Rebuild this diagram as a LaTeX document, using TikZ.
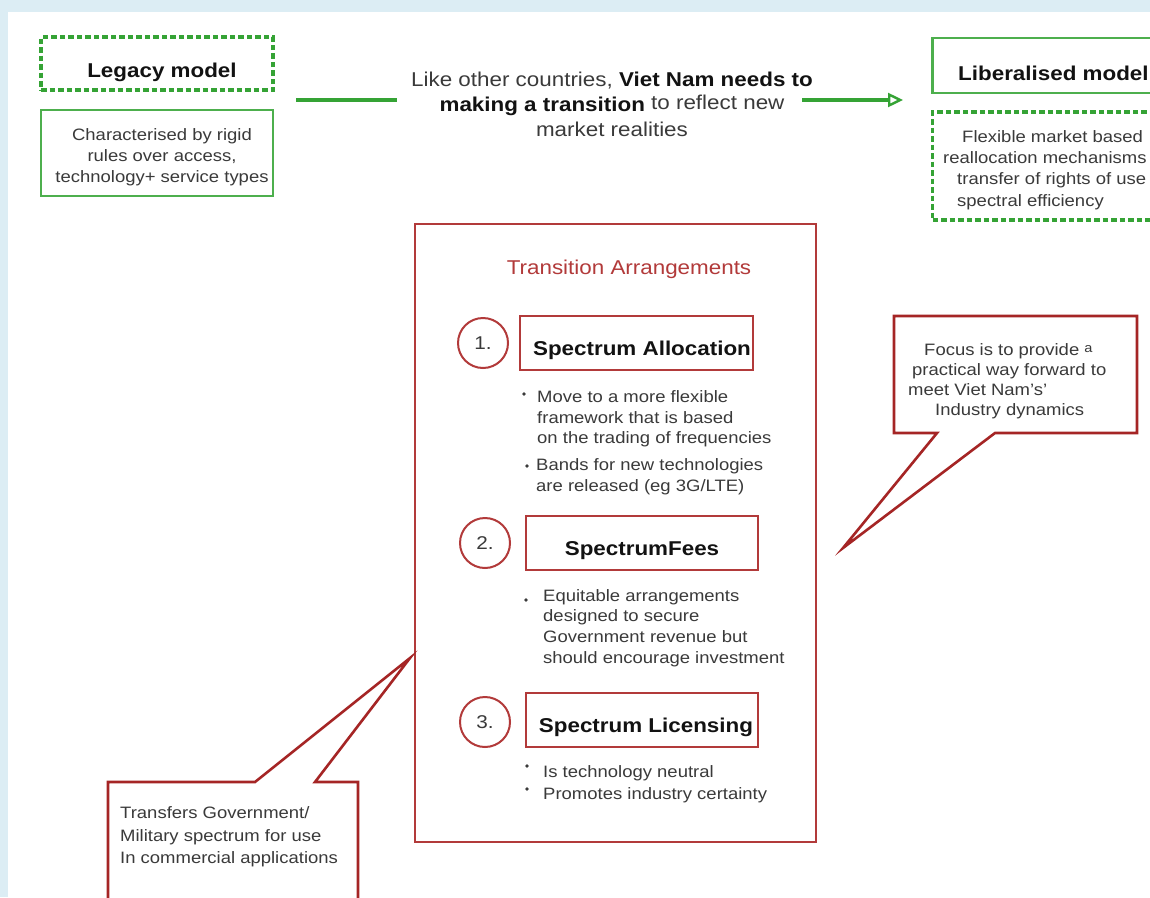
\documentclass[tikz,border=0pt]{standalone}
\usepackage{fontspec}
\setmainfont{Liberation Sans}[FakeStretch=1.12]
\usetikzlibrary{arrows.meta}
\definecolor{bgblue}{HTML}{DCEDF4}
\definecolor{gr}{HTML}{35A335}
\definecolor{grl}{HTML}{4DAF4D}
\definecolor{rd}{HTML}{B23A3A}
\definecolor{rdd}{HTML}{A52525}
\definecolor{txt}{HTML}{3A3A3A}
\definecolor{ink}{HTML}{121212}
\tikzset{
  gdash/.style={draw=gr, line width=3.2pt, dash pattern=on 5.5pt off 3pt, inner sep=0pt},
  gsolid/.style={draw=grl, line width=2.5pt, inner sep=0pt},
  rbox/.style={draw=rd, line width=2.2pt, inner sep=0pt},
  rline/.style={draw=rdd, line width=2.6pt, line join=miter},
  gline/.style={draw=gr, line width=3.2pt},
  body/.style={font=\fontsize{16.5}{21}\selectfont, text=txt, inner sep=0pt},
  ttl/.style={font=\fontsize{20}{24}\selectfont\bfseries, text=ink, inner sep=0pt},
  circ/.style={circle, draw=rd, line width=2pt, minimum size=50pt, inner sep=0pt,
    font=\fontsize{18.5}{20}\selectfont, text=txt},
  dot/.style={fill=txt}
}
\begin{document}
\begin{tikzpicture}[x=1pt,y=-1pt]
\useasboundingbox (0,0) rectangle (1150,897);
\clip (0,0) rectangle (1150,897);
\fill[bgblue] (0,0) rectangle (1150,897);
\fill[white] (8,12) rectangle (1150,897);

% Legacy model
\node[gdash, minimum width=232pt, minimum height=53pt] (legacy) at (157,63.5) {};
\node[ttl] (legacyt) at (162,72) {Legacy model};
\node[gsolid, minimum width=232pt, minimum height=86pt] (charb) at (157,153) {};
\node[body, align=center] (chart) at (162,157) {Characterised by rigid\\rules over access,\\technology+ service types};

% middle text
\node[inner sep=0pt, align=center, font=\fontsize{20}{25}\selectfont, text=txt] (mid) at (612,104)
  {Like other countries, \textcolor{ink}{\bfseries Viet Nam needs to}\\
   \textcolor{ink}{\bfseries making a transition} \raisebox{2pt}{to reflect new}\\
   market realities};

% Liberalised model
\node[gsolid, minimum width=240pt, minimum height=55pt, anchor=west] (lib) at (931,65.5) {};
\node[ttl, anchor=west] (libt) at (958,73) {Liberalised model};
\node[gdash, minimum width=240pt, minimum height=108pt, anchor=west] (flex) at (931,166) {};
\node[body, anchor=west, align=left, font=\fontsize{16.5}{21.3}\selectfont] (flext) at (943,170)
  {\hspace*{19pt}Flexible market based\\
   reallocation mechanisms\\
   \hspace*{14pt}transfer of rights of use\\
   \hspace*{14pt}spectral efficiency};

% transition connectors
\coordinate (a1) at (296,100);
\coordinate (a2) at (397,100);
\coordinate (a3) at (802,100);
\coordinate (a4) at (903,100);
\draw[gline] (a1) -- (a2);
\draw[gline, -{Triangle[open, length=15pt, width=14pt, line width=2.4pt]}] (a3) -- (a4);

% Transition arrangements
\node[rbox, minimum width=401pt, minimum height=618pt] (trans) at (615.5,533) {};
\node[inner sep=0pt, font=\fontsize{20}{24}\selectfont, text=rd] (transt) at (629,269) {Transition Arrangements};

\node[circ] (c1) at (483,343) {1.};
\node[rbox, minimum width=233pt, minimum height=54pt] (sa) at (636.5,343) {};
\node[ttl] (sat) at (642,350) {Spectrum Allocation};
\fill[dot] (524,394) circle (1.8pt);
\node[body, anchor=west, align=left, font=\fontsize{16.5}{20.5}\selectfont] (b1) at (537,419)
  {Move to a more flexible\\framework that is based\\on the trading of frequencies};
\fill[dot] (527,466) circle (1.8pt);
\node[body, anchor=west, align=left, font=\fontsize{16.5}{21}\selectfont] (b2) at (536,477)
  {Bands for new technologies\\are released (eg 3G/LTE)};

\node[circ] (c2) at (485,543) {2.};
\node[rbox, minimum width=232pt, minimum height=54pt] (sf) at (642,543) {};
\node[ttl] (sft) at (642,551) {SpectrumFees};
\fill[dot] (526,600) circle (1.8pt);
\node[body, anchor=west, align=left, font=\fontsize{16.5}{20.7}\selectfont] (b3) at (543,628)
  {Equitable arrangements\\designed to secure\\Government revenue but\\should encourage investment};

\node[circ] (c3) at (485,722) {3.};
\node[rbox, minimum width=232pt, minimum height=54pt] (sl) at (642,720) {};
\node[ttl] (slt) at (646,727) {Spectrum Licensing};
\fill[dot] (527,766) circle (1.8pt);
\fill[dot] (527,789) circle (1.8pt);
\node[body, anchor=west, align=left, font=\fontsize{16.5}{22}\selectfont] (b4) at (543,784)
  {Is technology neutral\\Promotes industry certainty};

% right callout
\draw[rline] (894,316) -- (1137,316) -- (1137,433) -- (995,433) -- (843,548) -- (937,433) -- (894,433) -- cycle;
\node[body, anchor=west, align=left, font=\fontsize{16.5}{20}\selectfont] (focus) at (908,381)
  {\hspace*{16pt}Focus is to provide \raisebox{3pt}{\fontsize{13}{13}\selectfont a}\\
   \hspace*{4pt}practical way forward to\\
   meet Viet Nam’s’\\
   \hspace*{27pt}Industry dynamics};

% left callout
\draw[rline] (108,905) -- (108,782) -- (255,782) -- (410,658) -- (315,782) -- (358,782) -- (358,905);
\node[body, anchor=west, align=left, font=\fontsize{16.5}{22.5}\selectfont] (mil) at (120,837)
  {Transfers Government/\\Military spectrum for use\\In commercial applications};
\end{tikzpicture}
\end{document}
